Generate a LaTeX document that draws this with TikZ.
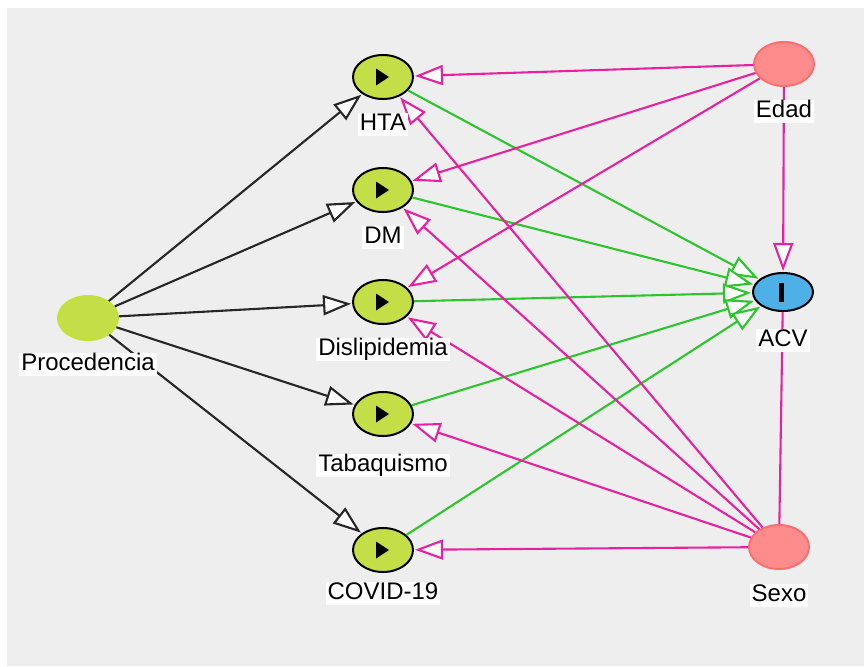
\documentclass[tikz,border=0pt]{standalone}
\usepackage{fontspec}
\setmainfont{Liberation Sans}
\definecolor{dagbg}{HTML}{EEEEEE}
\definecolor{expgreen}{HTML}{C3DE46}
\definecolor{procline}{HTML}{C6E03A}
\definecolor{advfill}{HTML}{FF8C8C}
\definecolor{advline}{HTML}{FF6E6E}
\definecolor{outblue}{HTML}{4DB0E6}
\definecolor{pinkarr}{HTML}{E8229F}
\definecolor{greenarr}{HTML}{2DC52D}
\usetikzlibrary{arrows.meta,positioning,shapes.geometric}

\begin{document}
\begin{tikzpicture}[x=0.5pt, y=-0.5pt,
      var/.style={ellipse, draw, line width=1pt, minimum width=30pt,
                  minimum height=22pt, inner sep=0pt},
      expo/.style={var, fill=expgreen},
      anc/.style={var, fill=expgreen, draw=procline},
      conf/.style={var, fill=advfill, draw=advline},
      outc/.style={var, fill=outblue, minimum height=19pt},
      lbl/.style={fill=white, inner sep=1pt,
                  font=\fontsize{12}{14}\selectfont,
                  text height=0.74em, text depth=0.2em},
      arr/.style={line width=1.05pt, shorten >=0.5pt,
                  -{Triangle[open, length=14pt, width=10pt, fill=white]}},
      blk/.style={arr, draw=black!85},
      grn/.style={arr, draw=greenarr},
      pnk/.style={arr, draw=pinkarr}
  ]
    \useasboundingbox (0,0) rectangle (864,666);
    \fill[white] (0,0) rectangle (864,666);
    \fill[dagbg] (7,8) rectangle (864,666);

    % variables
    \node[anc]  (proc)  at (88,318)  {};
    \node[expo] (hta)   at (383,77)  {};
    \node[expo] (dm)    at (383,190) {};
    \node[expo] (disl)  at (383,302) {};
    \node[expo] (tab)   at (383,414) {};
    \node[expo] (covid) at (383,550) {};
    \node[conf] (edad)  at (784,64)  {};
    \node[outc] (acv)   at (783,292) {};
    \node[conf] (sexo)  at (779,547) {};

    % Procedencia
    \draw[blk] (proc) -- (hta);
    \draw[blk] (proc) -- (dm);
    \draw[blk] (proc) -- (disl);
    \draw[blk] (proc) -- (tab);
    \draw[blk] (proc) -- (covid);
    % exposiciones -> ACV
    \draw[grn] (hta) -- (acv);
    \draw[grn] (dm) -- (acv);
    \draw[grn] (disl) -- (acv);
    \draw[grn] (tab) -- (acv);
    \draw[grn] (covid) -- (acv);
    % Edad
    \draw[pnk] (edad) -- (hta);
    \draw[pnk] (edad) -- (dm);
    \draw[pnk] (edad) -- (disl);
    \draw[pnk] (edad) -- (acv);
    % Sexo
    \draw[pnk] (sexo) -- (hta);
    \draw[pnk] (sexo) -- (dm);
    \draw[pnk] (sexo) -- (disl);
    \draw[pnk] (sexo) -- (tab);
    \draw[pnk] (sexo) -- (covid);
    \draw[line width=1.05pt, draw=pinkarr] (sexo) -- (acv);

    % symbols
    \fill (hta.center)   ++(-7,-8.5) -- ++(0,17) -- ++(13,-8.5) -- cycle;
    \fill (dm.center)    ++(-7,-8.5) -- ++(0,17) -- ++(13,-8.5) -- cycle;
    \fill (disl.center)  ++(-7,-8.5) -- ++(0,17) -- ++(13,-8.5) -- cycle;
    \fill (tab.center)   ++(-7,-8.5) -- ++(0,17) -- ++(13,-8.5) -- cycle;
    \fill (covid.center) ++(-7,-8.5) -- ++(0,17) -- ++(13,-8.5) -- cycle;
    \fill (acv.center)   ++(-4,-9.5) rectangle ++(5,19);

    % labels
    \node[lbl, below=6pt of proc]    (procl)  {Procedencia};
    \node[lbl, below=6.5pt of hta]   (htal)   {HTA};
    \node[lbl, below=6.5pt of dm]    (dml)    {DM};
    \node[lbl, below=6.5pt of disl]  (disll)  {Dislipidemia};
    \node[lbl, below=8.5pt of tab]   (tabl)   {Tabaquismo};
    \node[lbl, below=4.5pt of covid] (covidl) {COVID-19};
    \node[lbl, below=6.5pt of edad]  (edadl)  {Edad};
    \node[lbl, below=8.5pt of acv]   (acvl)   {ACV};
    \node[lbl, below=7pt of sexo]    (sexol)  {Sexo};
  \end{tikzpicture}
\end{document}
